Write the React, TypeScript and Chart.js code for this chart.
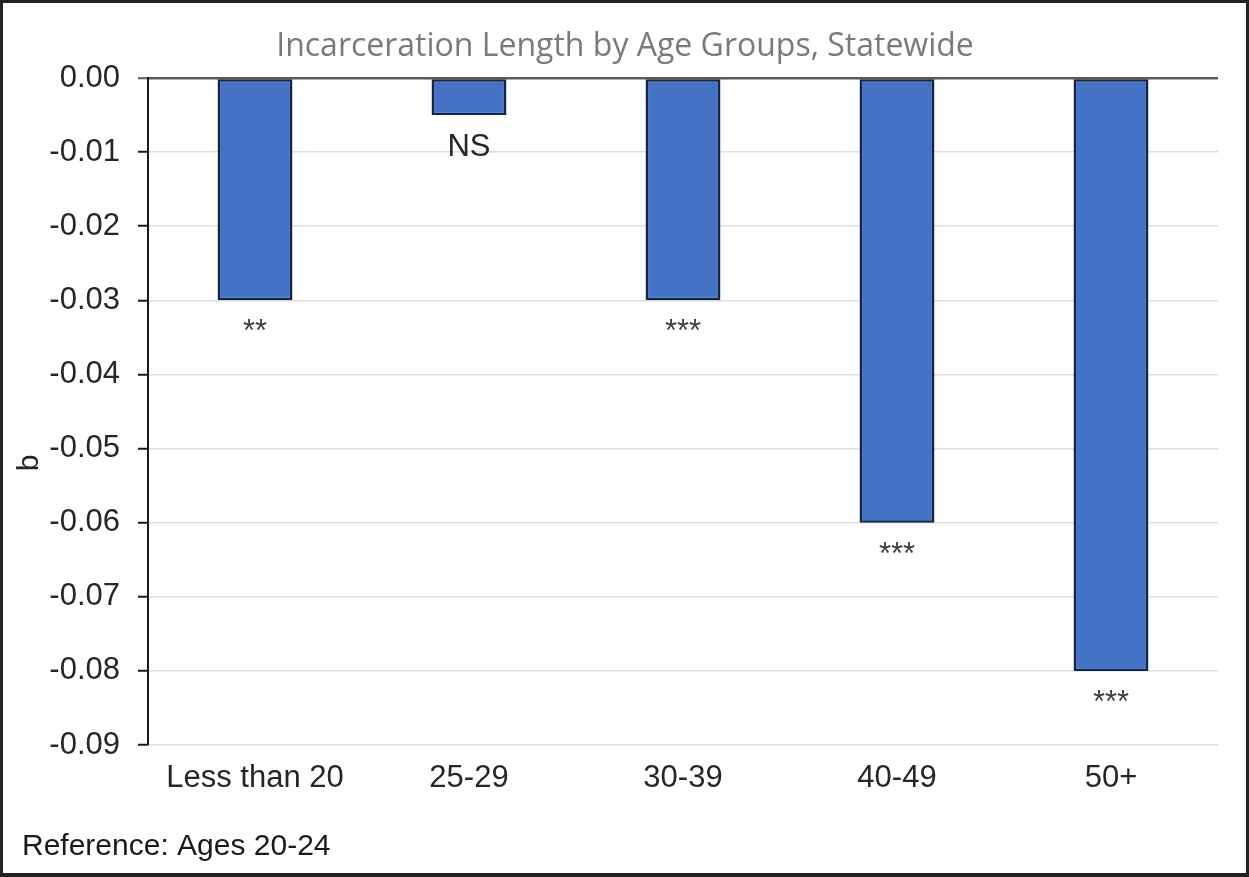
import React, { useEffect, useRef } from "react";
import { Chart, registerables } from "chart.js";

Chart.register(...registerables);

const categories = ["Less than 20", "25-29", "30-39", "40-49", "50+"];
const coefficients = [-0.03, -0.005, -0.03, -0.06, -0.08];
const significance = ["**", "NS", "***", "***", "***"];
const yMin = -0.09;
const yMax = 0;
const yStep = 0.01;
const chartTitle = "Incarceration Length by Age Groups, Statewide";
const yAxisTitle = "b";
const footNote = "Reference: Ages 20-24";

const SANS = '"Liberation Sans", Arial, sans-serif';

const annotationPlugin = {
  id: "annotations",
  afterDatasetsDraw(chart: any) {
    const ctx = chart.ctx;
    const meta = chart.getDatasetMeta(0);
    ctx.save();
    ctx.font = `31px ${SANS}`;
    ctx.textAlign = "center";
    ctx.textBaseline = "alphabetic";
    meta.data.forEach((bar: any, i: number) => {
      const { x, y } = bar.getProps(["x", "y"], true);
      ctx.fillStyle = significance[i] === "NS" ? "#262626" : "#404040";
      ctx.fillText(significance[i], x, y + 41);
    });
    // y-axis title
    ctx.save();
    ctx.translate(27, 460);
    ctx.rotate(-Math.PI / 2);
    ctx.textBaseline = "middle";
    ctx.fillStyle = "#262626";
    ctx.font = `30px ${SANS}`;
    ctx.fillText(yAxisTitle, 0, 0);
    ctx.restore();
    // footnote
    ctx.textAlign = "left";
    ctx.textBaseline = "middle";
    ctx.fillStyle = "#1a1a1a";
    ctx.font = `30px ${SANS}`;
    ctx.fillText(footNote, 19, 844);
    ctx.restore();
  },
};

export default function App() {
  const canvasRef = useRef<HTMLCanvasElement | null>(null);

  useEffect(() => {
    if (!canvasRef.current) return;
    const chart = new Chart(canvasRef.current, {
      type: "bar",
      data: {
        labels: categories,
        datasets: [
          {
            data: coefficients,
            backgroundColor: "#4472C4",
            borderColor: "#172440",
            borderWidth: 2.5,
            borderSkipped: false,
            categoryPercentage: 1,
            barPercentage: 0.35,
          },
        ],
      },
      options: {
        animation: false,
        responsive: false,
        layout: { padding: { left: 29, right: 28, top: 0, bottom: 0 } },
        plugins: {
          legend: { display: false },
          tooltip: { enabled: false },
          title: {
            display: true,
            text: chartTitle,
            color: "#7a7a7a",
            font: { family: '"Open Sans", sans-serif', size: 32, weight: "normal" },
            padding: { top: 24.5, bottom: 12.1 },
          },
        },
        scales: {
          x: {
            grid: { display: false, drawTicks: false },
            border: { display: false },
            ticks: {
              color: "#262626",
              font: { family: SANS, size: 31 },
              padding: 15,
              maxRotation: 0,
              autoSkip: false,
            },
            afterFit(scale: any) {
              scale.height = 128;
            },
          },
          y: {
            min: yMin,
            max: yMax,
            border: { display: true, color: "#1a1a1a", width: 2 },
            grid: {
              color: (c: any) => (Math.abs(c.tick.value) < 1e-9 ? "#595959" : "#dedede"),
              lineWidth: (c: any) => (Math.abs(c.tick.value) < 1e-9 ? 2.5 : 1.5),
              tickColor: (c: any) => (Math.abs(c.tick.value) < 1e-9 ? "#595959" : "#1a1a1a"),
              tickLength: 10,
              tickWidth: 2,
            },
            ticks: {
              stepSize: yStep,
              color: "#262626",
              font: { family: SANS, size: 31 },
              padding: 18,
              callback: (v: any) => {
                const n = Number(v);
                return (Math.abs(n) < 1e-9 ? 0 : n).toFixed(2);
              },
            },
            afterFit(scale: any) {
              scale.width = 116;
            },
          },
        },
      },
      plugins: [annotationPlugin],
    });
    return () => chart.destroy();
  }, []);

  return (
    <div
      style={{
        position: "absolute",
        left: 0,
        top: 0,
        width: 1249,
        height: 877,
        boxSizing: "border-box",
        border: "3px solid #222",
        borderBottomWidth: 4,
        background: "#fff",
        overflow: "hidden",
      }}
    >
      <canvas ref={canvasRef} width={1243} height={870} style={{ display: "block" }} />
    </div>
  );
}
